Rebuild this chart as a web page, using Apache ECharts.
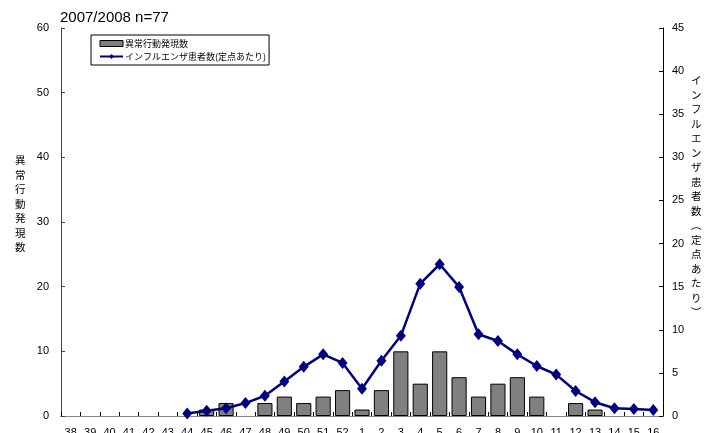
<!DOCTYPE html>
<html><head><meta charset="utf-8">
<script src="https://cdn.jsdelivr.net/npm/echarts@6/dist/echarts.min.js"></script>
<style>html,body{margin:0;padding:0;background:#fff}#c{width:704px;height:433px}</style>
</head><body><div id="c"></div>
<script>
const weeks = ['38','39','40','41','42','43','44','45','46','47','48','49','50','51','52','1','2','3','4','5','6','7','8','9','10','11','12','13','14','15','16'];
const abnormalCases = [0,0,0,0,0,0,0,1,2,0,2,3,2,3,4,1,4,10,5,10,6,3,5,6,3,0,2,1,0,0,0];
const fluPerSentinel = [null,null,null,null,null,null,0.3,0.6,0.9,1.5,2.35,4.0,5.7,7.15,6.15,3.17,6.4,9.3,15.35,17.6,14.97,9.48,8.7,7.15,5.8,4.8,2.9,1.6,0.9,0.8,0.7];
const leftTicks = {min:0,max:60,interval:10};
const rightTicks = {min:0,max:45,interval:5};
const titleText = '2007/2008 n=77';
const leftName = '異常行動発現数';
const rightNameChars = ['イ','ン','フ','ル','エ','ン','ザ','患','者','数','︵','定','点','あ','た','り','︶'];
const seriesNames = ['異常行動発現数','インフルエンザ患者数(定点あたり)'];

const FONT = "Arial, 'Liberation Sans', 'Noto Sans CJK JP', sans-serif";
const chart = echarts.init(document.getElementById('c'), null, {renderer:'canvas'});
chart.setOption({
  animation:false,
  backgroundColor:'#fff',
  textStyle:{fontFamily:FONT},
  grid:{left:61,right:41,top:28,bottom:17,containLabel:false,outerBoundsMode:'none'},
  legend:{
    left:91, top:35, orient:'vertical', itemGap:4, padding:[4,3,4,8],
    borderColor:'#000', borderWidth:1, backgroundColor:'#fff',
    itemWidth:23, itemHeight:6,
    textStyle:{fontSize:9, color:'#000', fontFamily:"'Noto Sans CJK JP', sans-serif", padding:[0,0,0,-3]},
    data:[
      {name:seriesNames[0], icon:'rect', itemStyle:{color:'#808080',borderColor:'#000',borderWidth:1}},
      {name:seriesNames[1]}
    ]
  },
  graphic:[
    {type:'text', left:60, top:10, style:{text:titleText, fontSize:15, fill:'#000', fontFamily:FONT}},
    {type:'text', left:15, top:153, style:{text:leftName.split('').join('\n'), fontSize:10.5, lineHeight:14.5, fill:'#000', fontFamily:"'Noto Sans CJK JP', sans-serif"}},
    {type:'text', left:691, top:73, style:{text:rightNameChars.join('\n'), fontSize:10.5, lineHeight:14.5, fill:'#000', fontFamily:"'Noto Sans CJK JP', sans-serif"}}
  ],
  xAxis:[{
    type:'category', data:weeks, boundaryGap:true,
    axisLine:{lineStyle:{color:'#000',width:1}},
    axisTick:{show:true, inside:true, length:4, alignWithLabel:false, lineStyle:{color:'#000'}},
    axisLabel:{color:'#000', fontSize:11, margin:11, interval:0, fontFamily:FONT}
  },{
    type:'category', data:weeks, position:'top',
    axisLine:{show:true, lineStyle:{color:'#888',width:1}},
    axisTick:{show:false}, axisLabel:{show:false}
  }],
  yAxis:[{
    type:'value', min:leftTicks.min, max:leftTicks.max, interval:leftTicks.interval, position:'left',
    axisLine:{show:true, lineStyle:{color:'#444'}},
    axisTick:{show:true, inside:true, length:4, lineStyle:{color:'#444'}},
    splitLine:{show:false},
    axisLabel:{color:'#000', fontSize:11, margin:12, fontFamily:FONT}
  },{
    type:'value', min:rightTicks.min, max:rightTicks.max, interval:rightTicks.interval, position:'right',
    axisLine:{show:true, lineStyle:{color:'#000'}},
    axisTick:{show:true, inside:true, length:4, lineStyle:{color:'#000'}},
    splitLine:{show:false},
    axisLabel:{color:'#000', fontSize:11, margin:9, fontFamily:FONT}
  }],
  series:[{
    name:seriesNames[0], type:'bar', data:abnormalCases.map(v => v === 0 ? '-' : v), yAxisIndex:0, xAxisIndex:0,
    barCategoryGap:'22%',
    itemStyle:{color:'#808080', borderColor:'#000', borderWidth:1},
    z:2
  },{
    name:seriesNames[1], type:'line', data:fluPerSentinel, yAxisIndex:1, xAxisIndex:0,
    symbol:'diamond', symbolSize:[10,12],
    lineStyle:{color:'#000080', width:2.5},
    itemStyle:{color:'#000080'},
    connectNulls:false,
    z:3
  }]
});
</script></body></html>
